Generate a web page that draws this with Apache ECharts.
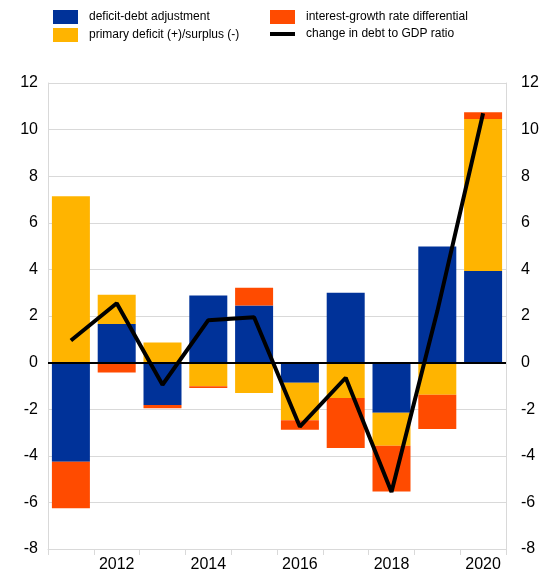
<!DOCTYPE html>
<html>
<head>
<meta charset="utf-8">
<script src="https://cdn.jsdelivr.net/npm/echarts@6/dist/echarts.min.js"></script>
<style>
  html, body { margin: 0; padding: 0; background: #fff; }
  #main { width: 554px; height: 574px; }
</style>
</head>
<body>
<div id="main"></div>
<script>
const years = ["2011", "2012", "2013", "2014", "2015", "2016", "2017", "2018", "2019", "2020"];
const ddAdjustment = [-4.25, 1.66, -1.82, 2.88, 2.45, -0.86, 3.0, -2.15, 4.98, 3.93];
const primaryDeficit = [7.14, 1.25, 0.86, -1.02, -1.3, -1.61, -1.52, -1.42, -1.38, 6.52];
const interestGrowth = [-2.0, -0.43, -0.14, -0.07, 0.76, -0.41, -2.15, -1.96, -1.47, 0.29];
const debtChange = [0.95, 2.55, -0.95, 1.82, 1.95, -2.75, -0.65, -5.55, 2.2, 10.7];

const font = "'Liberation Sans', Arial, sans-serif";
const gridColor = "#d9d9d9";

const chart = echarts.init(document.getElementById("main"));

const yAxisBase = {
  type: "value",
  min: -8,
  max: 12,
  interval: 2,
  axisLine: { show: true, lineStyle: { color: gridColor } },
  axisTick: { show: false },
  splitLine: { lineStyle: { color: gridColor, width: 1 } },
  axisLabel: { color: "#000", fontSize: 16, fontFamily: font, margin: 10 },
};

const legendBase = {
  orient: "vertical",
  top: 5,
  itemWidth: 25,
  itemHeight: 14,
  itemGap: 4,
  icon: "rect",
  textStyle: { fontSize: 12, color: "#000", fontFamily: font, padding: [0, 0, 0, 6] },
};

chart.setOption({
  animation: false,
  textStyle: { fontFamily: font },
  legend: [
    {
      ...legendBase,
      left: 48,
      data: ["deficit-debt adjustment", "primary deficit (+)/surplus (-)"],
    },
    {
      ...legendBase,
      left: 265,
      data: [
        "interest-growth rate differential",
        { name: "change in debt to GDP ratio", icon: "path://M0,0L25,0L25,4L0,4Z" },
      ],
    },
  ],
  grid: { left: 48, right: 48, top: 83, bottom: 25 },
  xAxis: {
    type: "category",
    data: years,
    axisLine: { onZero: false, lineStyle: { color: gridColor } },
    axisTick: { show: true, interval: 0, length: 6, lineStyle: { color: gridColor } },
    axisLabel: {
      interval: (i) => i % 2 === 1,
      color: "#000",
      fontSize: 16,
      fontFamily: font,
      margin: 8,
    },
  },
  yAxis: [
    { ...yAxisBase, position: "left" },
    { ...yAxisBase, position: "right", axisLabel: { ...yAxisBase.axisLabel, margin: 15 } },
  ],
  series: [
    {
      name: "deficit-debt adjustment",
      type: "bar",
      stack: "total",
      barWidth: 38,
      itemStyle: { color: "#003299" },
      data: ddAdjustment,
    },
    {
      name: "primary deficit (+)/surplus (-)",
      type: "bar",
      stack: "total",
      barWidth: 38,
      itemStyle: { color: "#FFB400" },
      data: primaryDeficit,
    },
    {
      name: "interest-growth rate differential",
      type: "bar",
      stack: "total",
      barWidth: 38,
      itemStyle: { color: "#FF4B00" },
      data: interestGrowth,
    },
    {
      name: "change in debt to GDP ratio",
      type: "line",
      data: debtChange,
      symbol: "none",
      itemStyle: { color: "#000" },
      lineStyle: { color: "#000", width: 4 },
      z: 5,
      markLine: {
        silent: true,
        symbol: "none",
        label: { show: false },
        lineStyle: { color: "#000", width: 2, type: "solid" },
        data: [{ yAxis: 0 }],
      },
    },
  ],
});
</script>
</body>
</html>
